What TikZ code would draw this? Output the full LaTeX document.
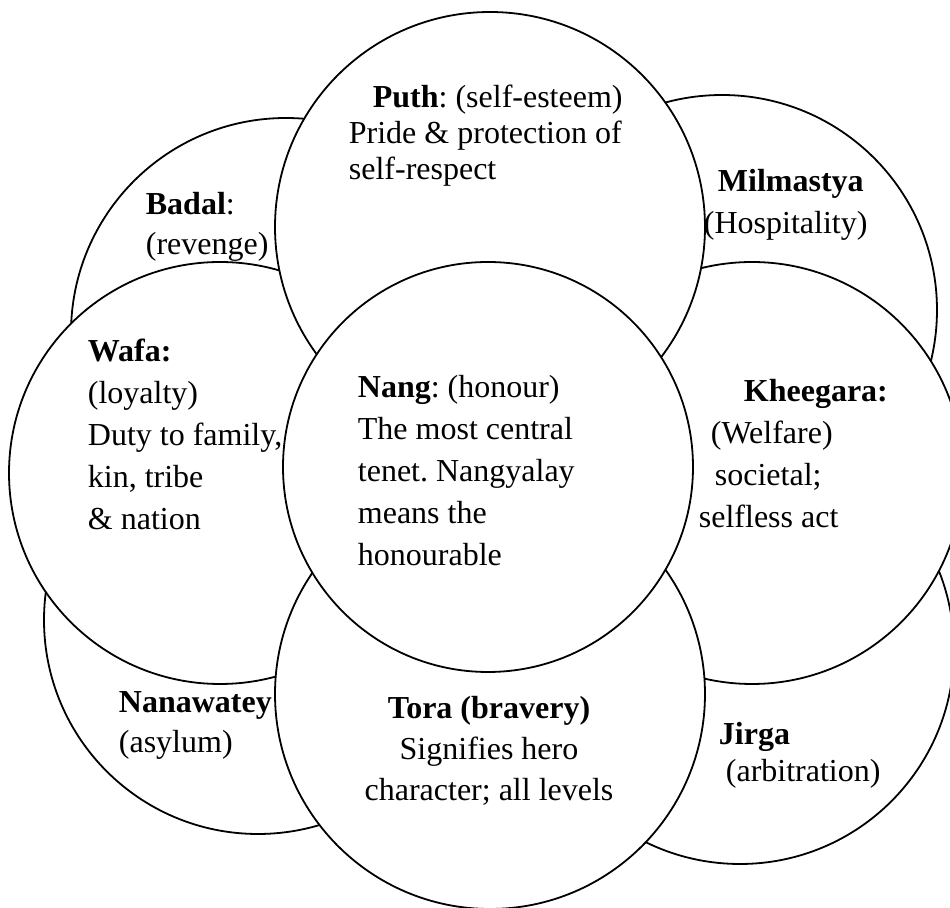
\documentclass[tikz,border=0pt]{standalone}
\usepackage{fontspec}
\setmainfont{Liberation Serif}
\frenchspacing
\begin{document}
\begin{tikzpicture}[x=0.5pt,y=-0.5pt,line join=round,line width=0.9pt,
            disc/.style={draw=black,fill=white},
            txt/.style={align=left,inner sep=0pt,anchor=base west,font=\fontsize{16}{21}\selectfont},
            ctxt/.style={txt,align=center,anchor=base}]
            \useasboundingbox (0,0) rectangle (950,908);
            % outer ring, drawn first
            \draw[disc] (286,333) circle(215);
            \draw[disc] (722,310) circle(215);
            \draw[disc] (258,620) circle(214);
            \draw[disc] (740,650) circle(214);
            % middle ring
            \draw[disc] (220,473) circle(211);
            \draw[disc] (752,473) circle(211);
            \draw[disc] (490,227) circle(215);
            \draw[disc] (490,694) circle(215);
            % centre
            \draw[disc] (488,467) circle(205);
            % texts: the anchor sits on the last line
            \node[txt,font=\fontsize{16}{18}\selectfont] (puth) at (348,180)
            {\hspace*{12pt}\textbf{Puth}: (self-esteem)\\Pride \& protection of\\self-respect};
            \node[txt,font=\fontsize{16}{20}\selectfont] (badal) at (145,255) {\textbf{Badal}:\\(revenge)};
            \node[txt] (milmastya) at (703,234) {\hspace*{7pt}\textbf{Milmastya}\\(Hospitality)};
            \node[txt] (wafa) at (87,530)
            {\textbf{Wafa:}\\(loyalty)\\Duty to family,\\kin, tribe\\\& nation};
            \node[txt] (nang) at (357,566)
            {\textbf{Nang}: (honour)\\The most central\\tenet. Nangyalay\\means the\\honourable};
            \node[txt] (kheegara) at (698,528)
            {\hspace*{22.5pt}\textbf{Kheegara:}\\\hspace*{6pt}(Welfare)\\\hspace*{8pt}societal;\\selfless act};
            \node[txt,font=\fontsize{16}{20}\selectfont] (nanawatey) at (118,753) {\textbf{Nanawatey}\\(asylum)};
            \node[ctxt,font=\fontsize{16}{20.5}\selectfont] (tora) at (489,801)
            {\textbf{Tora (bravery)}\\Signifies hero\\character; all levels};
            \node[txt,font=\fontsize{16}{18.5}\selectfont] (jirga) at (718,782) {\textbf{Jirga}\\\hspace*{3.5pt}(arbitration)};
\end{tikzpicture}
\end{document}
